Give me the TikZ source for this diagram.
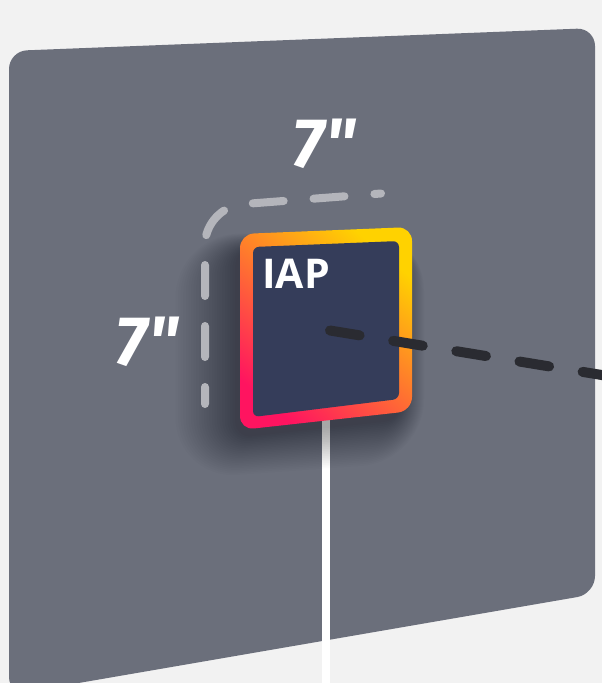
\documentclass[tikz,border=0pt]{standalone}
\usepackage{fontspec}
\setmainfont{Open Sans}
\newfontfamily\dimfont{Fira Sans}
\definecolor{bgc}{HTML}{F2F2F2}
\definecolor{panelc}{HTML}{6B6F7B}
\definecolor{lgrayc}{HTML}{B4B5BB}
\definecolor{darkc}{HTML}{2A2B31}
\definecolor{navyc}{HTML}{353D5A}
\definecolor{yelc}{HTML}{FFD200}
\definecolor{orngc}{HTML}{FF7F22}
\definecolor{pinkc}{HTML}{FF1460}
\tikzset{
  dimlabel/.style={text=white, inner sep=0pt, font=\dimfont\fontsize{70}{70}\selectfont\bfseries\itshape},
  iaplabel/.style={text=white, inner sep=0pt, anchor=base west, font=\fontsize{41}{41}\selectfont\bfseries},
  guideline/.style={draw=lgrayc, line width=8pt, line cap=round, dash pattern=on 31pt off 30pt, dash phase=14pt, rounded corners=38pt},
  axisline/.style={draw=darkc, line width=10pt, line cap=round, dash pattern=on 30pt off 34pt},
  postline/.style={draw=white, line width=8pt}
}
\begin{document}
\begin{tikzpicture}[x=1pt,y=-1pt]
\useasboundingbox (0,0) rectangle (602,683);
\clip (0,0) rectangle (602,683);
\fill[bgc] (0,0) rectangle (602,683);
% panel
\fill[panelc, rounded corners=18pt] (9,51) -- (595,28) -- (595,594) -- (9,695) -- cycle;
% post
\coordinate (postTop) at (326,420);
\coordinate (postBot) at (326,700);
\draw[postline] (postTop) -- (postBot);
% shadow
\foreach \i in {1,...,24}{
  \pgfmathsetmacro{\e}{\i*2.0}
  \pgfmathsetmacro{\r}{14+\e}
  \fill[black, opacity=0.016, rounded corners=\r pt]
    ({238-1.3*\e},{250-0.3*\e}) -- ({400+0.5*\e},{243-0.3*\e}) -- ({400+0.5*\e},{418+0.9*\e}) -- ({238-1.3*\e},{436+0.9*\e}) -- cycle;
}
% guide lines
\coordinate (gA) at (205,404);
\coordinate (gB) at (205,207);
\coordinate (gC) at (381,193.5);
\draw[guideline] (gA) -- (gB) -- (gC);
% IAP box
\shade[rounded corners=14pt, shading=axis, top color=yelc, middle color=orngc, bottom color=pinkc, shading angle=-40]
  (240,234) -- (412,227) -- (412,411) -- (240,430) -- cycle;
\fill[navyc, rounded corners=6pt] (253,247) -- (399,241) -- (399,399) -- (253,417) -- cycle;
\node[iaplabel] (iap) at (262,288) {IAP};
% labels
\node[dimlabel] (topdim) at (324,144) {7"};
\node[dimlabel] (leftdim) at (147,342) {7"};
% axis
\coordinate (boxc) at (330,330.5);
\coordinate (far) at (620,378);
\draw[axisline] (boxc) -- (far);
\end{tikzpicture}
\end{document}
